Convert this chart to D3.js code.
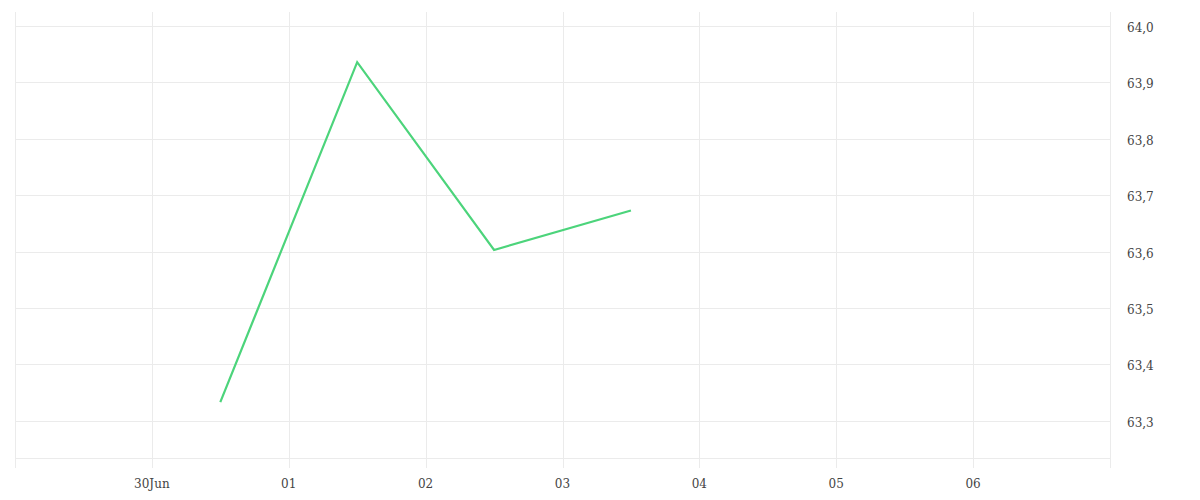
<!DOCTYPE html>
<html>
<head>
<meta charset="utf-8">
<script src="https://cdn.jsdelivr.net/npm/d3@7"></script>
<style>
  html, body { margin: 0; padding: 0; background: #fff; }
  svg { display: block; }
  .lbl { font-family: "DejaVu Serif", serif; font-size: 12px; fill: #444; }
</style>
</head>
<body>
<svg id="chart" width="1200" height="500"></svg>
<script>
const dates = ["2023-06-30T12:00", "2023-07-01T12:00", "2023-07-02T12:00", "2023-07-03T12:00"];
const values = [63.333, 63.936, 63.603, 63.673];
const yTicks = [63.3, 63.4, 63.5, 63.6, 63.7, 63.8, 63.9, 64.0];
const xTickDates = ["2023-06-30", "2023-07-01", "2023-07-02", "2023-07-03", "2023-07-04", "2023-07-05", "2023-07-06"];
const xTickLabels = ["30Jun", "01", "02", "03", "04", "05", "06"];
const xDomain = ["2023-06-29", "2023-07-07"];
const yDomain = [63.234, 64.025];

const parse = d3.timeParse("%Y-%m-%dT%H:%M");
const parseDay = d3.timeParse("%Y-%m-%d");

const mLeft = 15, mRight = 1110, mTop = 12, mBottom = 458;
const svg = d3.select("#chart");

const x = d3.scaleTime().domain(xDomain.map(parseDay)).range([mLeft, mRight]);
const y = d3.scaleLinear().domain(yDomain).range([mBottom, mTop]);

const grid = svg.append("g").attr("stroke", "#ebebeb").attr("stroke-width", 1).attr("shape-rendering", "crispEdges");

grid.selectAll("line.h").data(yTicks).enter().append("line")
  .attr("x1", mLeft).attr("x2", mRight)
  .attr("y1", d => Math.round(y(d)) + 0.5).attr("y2", d => Math.round(y(d)) + 0.5);
grid.append("line").attr("x1", mLeft).attr("x2", mRight)
  .attr("y1", mBottom + 0.5).attr("y2", mBottom + 0.5);

const vDates = [parseDay(xDomain[0])].concat(xTickDates.map(parseDay), [parseDay(xDomain[1])]);
grid.selectAll("line.v").data(vDates).enter().append("line")
  .attr("x1", d => Math.round(x(d)) + 0.5).attr("x2", d => Math.round(x(d)) + 0.5)
  .attr("y1", mTop).attr("y2", 468);

svg.append("g").selectAll("text").data(xTickDates).enter().append("text")
  .attr("class", "lbl")
  .attr("x", d => x(parseDay(d)))
  .attr("y", 488)
  .attr("text-anchor", "middle")
  .text((d, i) => xTickLabels[i]);

const fmt = v => d3.format(".1f")(v).replace(".", ",");
svg.append("g").selectAll("text").data(yTicks).enter().append("text")
  .attr("class", "lbl")
  .attr("x", 1127)
  .attr("y", d => y(d) + 6)
  .attr("text-anchor", "start")
  .text(fmt);

const pts = dates.map((d, i) => [parse(d), values[i]]);
svg.append("path")
  .datum(pts)
  .attr("fill", "none")
  .attr("stroke", "#4cd47b")
  .attr("stroke-width", 2.2)
  .attr("d", d3.line().x(d => x(d[0])).y(d => y(d[1])));
</script>
</body>
</html>
